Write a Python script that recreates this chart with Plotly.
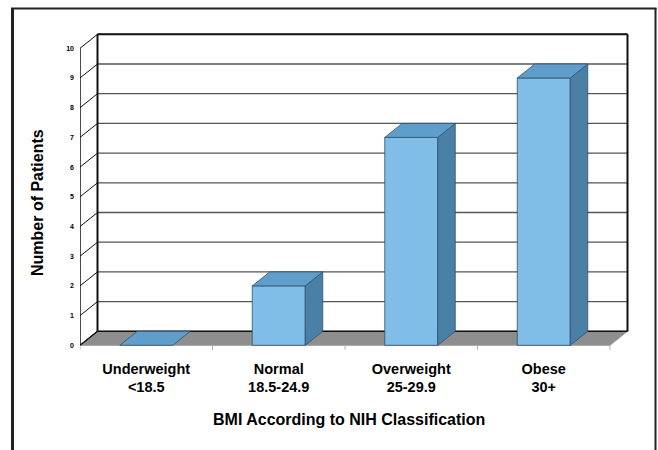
import plotly.graph_objects as go

# --- data -------------------------------------------------------------
categories = ["Underweight", "Normal", "Overweight", "Obese"]
ranges = ["&lt;18.5", "18.5-24.9", "25-29.9", "30+"]
patients = [0, 2, 7, 9]
y_ticks = list(range(0, 11))

# --- geometry / style ---------------------------------------------------
W, H = 658, 450
ML, MR, MT, MB = 80, 26, 30, 100
PW, PH = W - ML - MR, H - MT - MB
PX_U = 132.5          # pixels per category slot
PX_V = 29.7           # pixels per patient
Y0 = 345.3            # pixel row of value 0 on the front edge
DU = 17.5 / PX_U      # depth offset (x) in category units
DV = 14.0 / PX_V      # depth offset (y) in value units
BAR_GAP = 0.3         # gap on each side of a bar inside its slot

FRONT = "#80BEE8"
TOP = "#5F9DCB"
SIDE = "#4A7FA6"
EDGE = "#2F506C"
FLOOR = "#8E8E8E"
FONT = "Liberation Sans, Arial, sans-serif"

n = len(categories)
vmax = max(y_ticks)

fig = go.Figure()


def poly(xs, ys, fill, line_color=EDGE, width=0.8):
    fig.add_trace(go.Scatter(
        x=list(xs) + [xs[0]], y=list(ys) + [ys[0]], mode="lines",
        fill="toself", fillcolor=fill,
        line=dict(color=line_color, width=width),
        hoverinfo="skip", showlegend=False))


def seg(xs, ys, color="#000000", width=1.0):
    fig.add_trace(go.Scatter(
        x=xs, y=ys, mode="lines", line=dict(color=color, width=width),
        hoverinfo="skip", showlegend=False, connectgaps=False))


# floor
poly([0, n, n + DU, DU], [0, 0, DV, DV], FLOOR, line_color="#9a9a9a", width=1)
seg([DU, n + DU], [DV, DV], "#111111", 1.6)
seg([0, DU], [0, DV], "#111111", 1.4)

# gridlines on the back wall and slanted guides on the side wall
gx, gy, sx, sy = [], [], [], []
for v in y_ticks[1:]:
    gx += [DU, n + DU, None]
    gy += [v + DV, v + DV, None]
for v in y_ticks:
    sx += [0, DU, None]
    sy += [v, v + DV, None]
seg(gx[:-1], gy[:-1], "#555555", 1.3)
seg(sx[:-1], sy[:-1], "#111111", 1.0)

# wall edges
seg([DU, n + DU], [vmax + DV, vmax + DV], "#111111", 2.0)
seg([DU, DU], [DV, vmax + DV], "#111111", 2.0)
seg([n + DU, n + DU], [DV, vmax + DV], "#111111", 2.0)
seg([0, 0], [0, vmax], "#111111", 1.5)

# category boundary ticks under the floor
tx, ty = [], []
for b in range(n + 1):
    tx += [b, b, None]
    ty += [0, -0.15, None]
seg(tx[:-1], ty[:-1], "#b0b0b0", 1.0)

# columns
for i, v in enumerate(patients):
    u0, u1 = i + BAR_GAP, i + 1 - BAR_GAP
    if v > 0:
        poly([u0, u1, u1, u0], [0, 0, v, v], FRONT)
        poly([u1, u1 + DU, u1 + DU, u1], [0, DV, v + DV, v], SIDE)
    poly([u0, u1, u1 + DU, u0 + DU], [v, v, v + DV, v + DV], TOP)

# --- axes ----------------------------------------------------------------
fig.update_xaxes(
    range=[0, PW / PX_U], showgrid=False, zeroline=False, showline=False,
    tickmode="array", tickvals=[i + 0.5 for i in range(n)],
    ticktext=[f"{c}<br>{r}" for c, r in zip(categories, ranges)],
    ticks="", ticklabelstandoff=8,
    tickfont=dict(family=FONT, size=14.5, color="#000000", weight="bold"),
    fixedrange=True)
fig.update_yaxes(
    range=[(Y0 - (H - MB)) / PX_V, (Y0 - MT) / PX_V],
    showgrid=False, zeroline=False, showline=False,
    tickmode="array", tickvals=y_ticks, ticktext=[str(t) for t in y_ticks],
    ticks="", ticklabelstandoff=5,
    tickfont=dict(family=FONT, size=7, color="#000000", weight="bold"),
    fixedrange=True)


def paper_x(p):
    return (p - ML) / PW


def paper_y(p):
    return (H - MB - p) / PH


fig.add_annotation(
    text="Number of Patients", textangle=-90, showarrow=False,
    xref="paper", yref="paper", x=paper_x(37), y=paper_y(203),
    xanchor="center", yanchor="middle",
    font=dict(family=FONT, size=16, color="#000000", weight="bold"))
fig.add_annotation(
    text="BMI According to NIH Classification", showarrow=False,
    xref="paper", yref="paper", x=paper_x(349), y=paper_y(419),
    xanchor="center", yanchor="middle",
    font=dict(family=FONT, size=16, color="#000000", weight="bold"))

# outer frame (open at the bottom edge of the page)
frame = dict(xref="paper", yref="paper", type="line")
fig.add_shape(**frame, x0=paper_x(12.5), x1=paper_x(12.5), y0=paper_y(8), y1=paper_y(460),
              line=dict(color="#222222", width=3))
fig.add_shape(**frame, x0=paper_x(11), x1=paper_x(656.5), y0=paper_y(8.5), y1=paper_y(8.5),
              line=dict(color="#222222", width=2))
fig.add_shape(**frame, x0=paper_x(655.5), x1=paper_x(655.5), y0=paper_y(8), y1=paper_y(460),
              line=dict(color="#222222", width=2))

fig.update_layout(
    width=W, height=H, autosize=False,
    margin=dict(l=ML, r=MR, t=MT, b=MB, pad=0),
    paper_bgcolor="#ffffff", plot_bgcolor="rgba(0,0,0,0)",
    showlegend=False, hovermode=False)

fig.write_html("out.html", config={"displayModeBar": False})
